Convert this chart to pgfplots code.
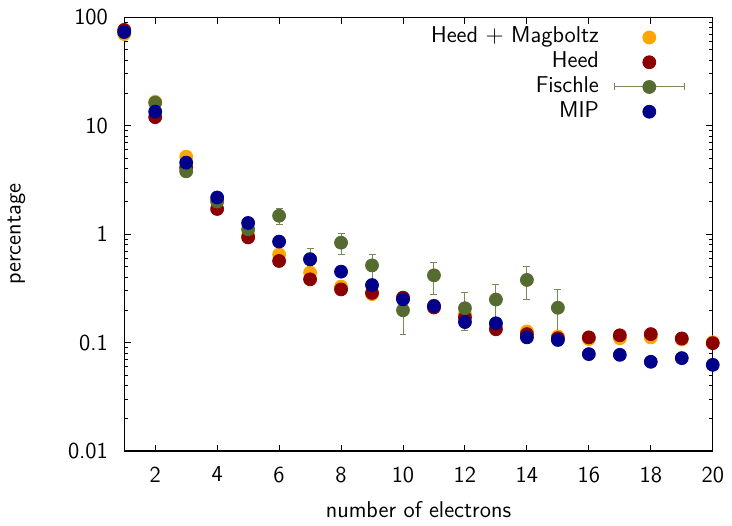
\documentclass[border=0pt]{standalone}
\usepackage{pgfplots}
\pgfplotsset{compat=1.18}
\usepackage{pgfplotstable}
\renewcommand{\familydefault}{\sfdefault}
\definecolor{gpOrange}{HTML}{FFA500}
\definecolor{gpRed}{HTML}{8B0000}
\definecolor{gpGreen}{HTML}{556B2F}
\definecolor{gpBlue}{HTML}{00008B}
\pgfplotsset{
  plainleg/.style={legend image code/.code={\path (0bp,-3bp) (35bp,3bp); \draw[mark repeat=2,mark phase=2,##1] plot coordinates {(0bp,0bp)(17.5bp,0bp)(35bp,0bp)};}},
  errleg/.style={legend image code/.code={%
    \draw[gpGreen!80!white, line width=0.5bp] (0bp,0bp) -- (35bp,0bp) (0bp,-1.75bp) -- (0bp,1.75bp) (35bp,-1.75bp) -- (35bp,1.75bp);
    \draw[mark repeat=2,mark phase=2,##1] plot coordinates {(0bp,0bp)(17.5bp,0bp)(35bp,0bp)};}},
}

\pgfplotstableread{
x y
1 70
2 16.6
3 5.19
4 2.05
5 0.98
6 0.65
7 0.443
8 0.329
9 0.28
10 0.26
11 0.22
12 0.183
13 0.14
14 0.127
15 0.114
16 0.108
17 0.110
18 0.112
19 0.107
20 0.101
}\heedmag
\pgfplotstableread{
x y
1 76.5
2 12.0
3 4.1
4 1.71
5 0.935
6 0.567
7 0.384
8 0.31
9 0.288
10 0.26
11 0.211
12 0.171
13 0.133
14 0.12
15 0.11
16 0.112
17 0.117
18 0.12
19 0.1094
20 0.099
}\heed
\pgfplotstableread{
x y ep em
1 73 1 1
2 16.3 0.4 0.4
3 3.8 0.15 0.15
4 2.0 0.1 0.1
5 1.11 0.2 0.2
6 1.48 0.26 0.26
7 0.59 0.15 0.13
8 0.836 0.18 0.19
9 0.516 0.13 0.13
10 0.199 0.08 0.08
11 0.418 0.135 0.14
12 0.208 0.08 0.078
13 0.25 0.095 0.095
14 0.379 0.127 0.13
15 0.21 0.1 0.1
}\fischle
\pgfplotstableread{
x y
1 73.2
2 13.5
3 4.57
4 2.18
5 1.27
6 0.855
7 0.586
8 0.452
9 0.34
10 0.251
11 0.218
12 0.155
13 0.151
14 0.112
15 0.106
16 0.0785
17 0.0773
18 0.0667
19 0.0721
20 0.0625
}\mip

\begin{document}
\fontsize{11.5}{13.8}\selectfont
\begin{tikzpicture}
\begin{semilogyaxis}[
  scale only axis,
  width=295bp, height=217.5bp,
  xmin=1, xmax=20, ymin=0.01, ymax=100,
  xtick={2,4,...,20},
  ytick={0.01,0.1,1,10,100},
  yticklabels={0.01,0.1,1,10,100},
  /pgf/number format/assume math mode=true,
  tick align=inside,
  major tick length=3.3bp,
  minor tick length=1.7bp,
  axis line style={line width=0.7bp},
  every tick/.style={black, line width=0.5bp},
  xticklabel style={inner sep=0pt, anchor=north, yshift=-7.7bp},
  yticklabel style={inner sep=0pt, anchor=east, xshift=-8bp},
  xlabel={number of electrons},
  ylabel={percentage},
  every axis x label/.style={at={(axis description cs:0.5,0)}, yshift=-29.2bp, anchor=center},
  every axis y label/.style={at={(axis description cs:0,0.5)}, xshift=-54bp, anchor=center, rotate=90},
  plainleg,
  legend plot pos=right,
  legend cell align=right,
  legend style={draw=none, fill=none, inner sep=0pt, column sep=7.5bp, row sep=1.9bp,
    at={(rel axis cs:1,1)}, anchor=north east, xshift=-13.85bp, yshift=-4.7bp,
    nodes={inner sep=0pt, text height=8bp, text depth=2.5bp}},
  mark size=3.25bp,
]
\addplot[only marks, mark=*, color=gpOrange] table[x=x,y=y] {\heedmag};
\addlegendentry{Heed $+$ Magboltz}
\addplot[only marks, mark=*, color=gpRed] table[x=x,y=y] {\heed};
\addlegendentry{Heed}
\addplot[only marks, mark=*, color=gpGreen, errleg,
  error bars/.cd, y dir=both, y explicit,
  error bar style={line width=0.5bp, color=gpGreen!80!white},
  error mark options={rotate=90, mark size=1.75bp, line width=0.5bp, color=gpGreen!80!white}]
  table[x=x,y=y,y error plus=ep,y error minus=em] {\fischle};
\addlegendentry{Fischle}
\addplot[only marks, mark=*, color=gpBlue] table[x=x,y=y] {\mip};
\addlegendentry{MIP}
\end{semilogyaxis}
\path (current axis.south west) +(-61.35bp,-33.85bp);
\path (current axis.north east) +(9.65bp,8.65bp);
\end{tikzpicture}
\end{document}
